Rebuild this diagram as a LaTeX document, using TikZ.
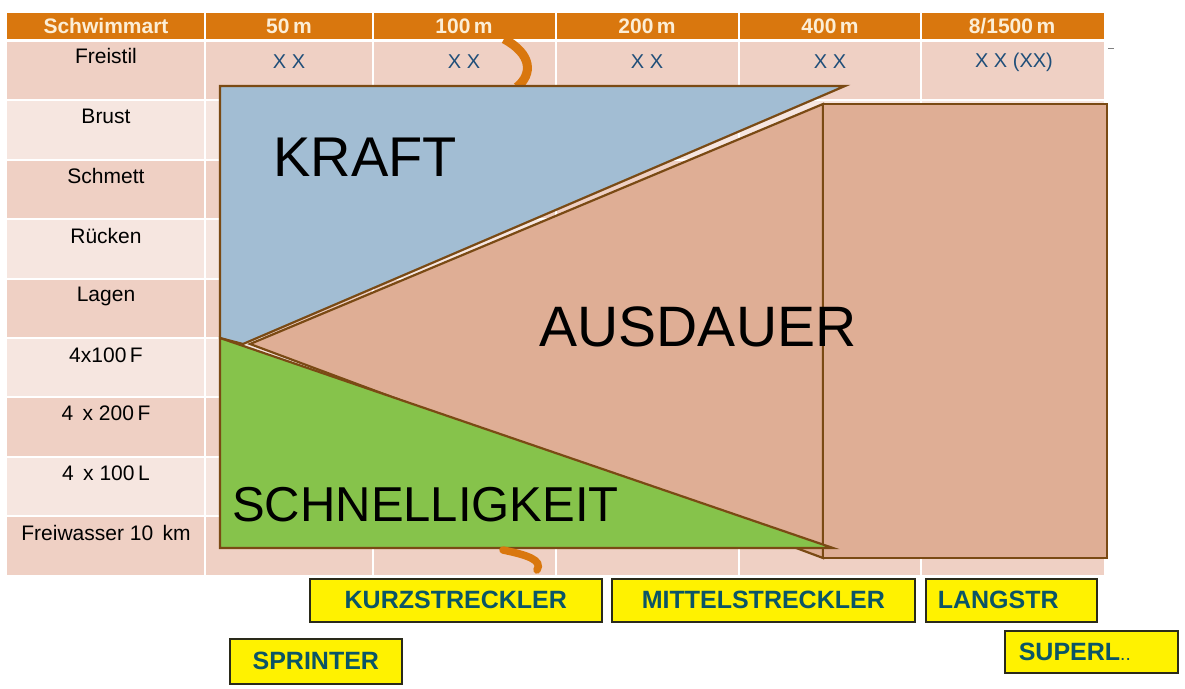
\documentclass[tikz,border=0pt]{standalone}
\usepackage{fontspec}
\setmainfont{Liberation Sans}
\definecolor{hdrbg}{HTML}{D9770E}
\definecolor{hdrtext}{HTML}{FCEED6}
\definecolor{rowdark}{HTML}{EFD0C4}
\definecolor{rowlight}{HTML}{F6E6E0}
\definecolor{kblue}{HTML}{A2BDD3}
\definecolor{salmon}{HTML}{DFAE95}
\definecolor{sgreen}{HTML}{86C34B}
\definecolor{sbrown}{HTML}{7A4A14}
\definecolor{xxblue}{HTML}{1F4E79}
\definecolor{boxtext}{HTML}{0B5566}
\definecolor{boxline}{HTML}{2A2A1A}
\definecolor{squig}{HTML}{D9770E}
\begin{document}
\begin{tikzpicture}[x=1pt,y=-1pt,
  lbl/.style={font=\fontsize{21}{23}\selectfont, text=black, inner sep=0pt},
  hdr/.style={font=\fontsize{21}{23}\selectfont\bfseries, text=hdrtext, inner sep=0pt},
  xx/.style={font=\fontsize{20}{22}\selectfont, text=xxblue, inner sep=0pt},
  big/.style={font=\fontsize{56}{60}\selectfont, text=black, inner sep=0pt},
  ybox/.style={draw=boxline, line width=1.6pt, fill=yellow, font=\fontsize{25}{27}\selectfont\bfseries, text=boxtext, inner sep=0pt, anchor=north west},
  area/.style={draw=sbrown, line width=2.2pt, line join=miter},
  sep/.style={white, line width=2pt}]
\useasboundingbox (0,0) rectangle (1185,688);
\fill[white] (0,0) rectangle (1185,688);
% header
\fill[hdrbg] (7,13) rectangle (1104,39);
\foreach \x in {205,373,556,739,921} \draw[sep] (\x,13) -- (\x,39);
\node[hdr] (h0) at (106,26) {Schwimmart};
\node[hdr] (h1) at (289,26) {50\,m};
\node[hdr] (h2) at (464,26) {100\,m};
\node[hdr] (h3) at (647,26) {200\,m};
\node[hdr] (h4) at (830,26) {400\,m};
\node[hdr] (h5) at (1012,26) {8/1500\,m};
% rows
\foreach \i in {0,...,8} {
  \pgfmathsetmacro{\yt}{42+59.4*\i}
  \pgfmathsetmacro{\yb}{\yt+57.4}
  \pgfmathparse{mod(\i,2)==0 ? "rowdark" : "rowlight"}
  \edef\rc{\pgfmathresult}
  \fill[\rc] (7,\yt) rectangle (1104,\yb);
  \foreach \x in {205,373,556,739,921} \draw[sep] (\x,\yt) -- (\x,\yb);
}
\node[lbl] (r0) at (106,56) {Freistil};
\node[lbl] (r1) at (106,116) {Brust};
\node[lbl] (r2) at (106,176) {Schmett};
\node[lbl] (r3) at (106,236) {Rücken};
\node[lbl] (r4) at (106,296) {Lagen};
\node[lbl] (r5) at (106,355) {4x100\,F};
\node[lbl] (r6) at (106,413) {4 \,x 200\,F};
\node[lbl] (r7) at (106,473) {4 \,x 100\,L};
\node[lbl] (r8) at (106,533) {Freiwasser 10 \,km};
\node[xx] (x1) at (289,62) {X X};
\node[xx] (x2) at (464,62) {X X};
\node[xx] (x3) at (647,62) {X X};
\node[xx] (x4) at (830,62) {X X};
\node[xx] (x5) at (1014,62) {X X (XX)};
\draw[gray, line width=1pt] (1108,48) -- (1114,48);
% squiggles
\draw[squig, line width=9pt] (504,39) .. controls (532,54) and (533,74) .. (517,87);
% shapes
\filldraw[area, fill=kblue] (220,86) -- (845,86) -- (243,344) -- (220,338) -- cycle;
\filldraw[area, fill=salmon] (250,344) -- (823,104) -- (823,558) -- cycle;
\filldraw[area, fill=salmon] (823,104) rectangle (1107,558);
\filldraw[area, fill=sgreen] (220,338) -- (833,548) -- (220,548) -- cycle;
\draw[squig, line width=7.5pt, line cap=round] (503,550) .. controls (527,555) and (543,560) .. (537,570);
% big labels
\node[big] (kraft) at (365,157) {KRAFT};
\node[big, font=\fontsize{57}{60}\selectfont] (aus) at (698,327) {AUSDAUER};
\node[big, font=\fontsize{49}{52}\selectfont, anchor=west] (schn) at (232,505) {SCHNELLIGKEIT};
% boxes
\node[ybox, minimum width=292pt, minimum height=43pt] (kurz) at (309,578) {KURZSTRECKLER};
\node[ybox, minimum width=303pt, minimum height=43pt] (mittel) at (611,578) {MITTELSTRECKLER};
\node[ybox, minimum height=43pt, text width=147pt, inner xsep=12pt, align=left] (lang) at (925,578) {LANGSTR};
\node[ybox, minimum width=172pt, minimum height=45pt] (sprint) at (229,638) {SPRINTER};
\node[ybox, minimum height=42pt, text width=145pt, inner xsep=14pt, align=left] (super) at (1004,630) {SUPERL{\fontsize{19}{20}\selectfont\mdseries..}};
\end{tikzpicture}
\end{document}
